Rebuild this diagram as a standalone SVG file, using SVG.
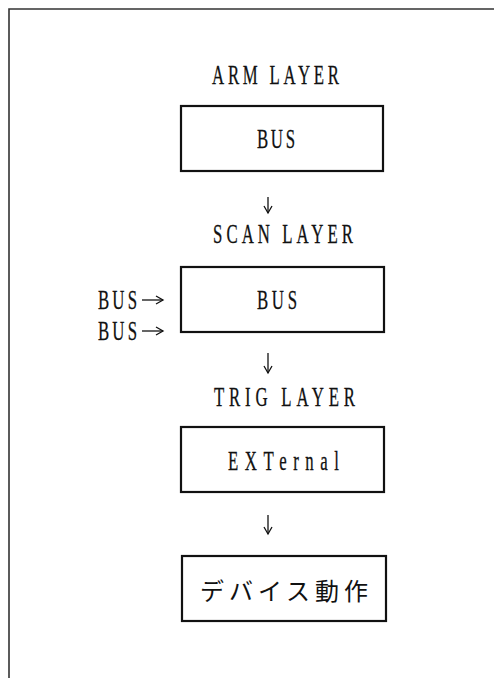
<svg xmlns="http://www.w3.org/2000/svg" width="494" height="678" viewBox="0 0 494 678">
<defs>
<style>
.t{font-family:"Liberation Serif","Noto Sans CJK JP",serif;font-size:28px;fill:#111;stroke:#111;stroke-width:0.3}
.j{font-family:"Noto Sans CJK JP","Liberation Serif",serif;font-size:24px;fill:#111}
.box{fill:#fff;stroke:#111;stroke-width:2.2}
.c{fill:none;stroke:#111;stroke-width:1.3}
</style>
<marker id="ah" markerWidth="10" markerHeight="10" refX="8" refY="5" orient="auto" markerUnits="userSpaceOnUse">
<path d="M1,1 L8,5 L1,9" fill="none" stroke="#111" stroke-width="1.3"/>
</marker>
</defs>
<rect width="494" height="678" fill="#fff"/>
<g id="frame"><path d="M9,678 V9 H494" fill="none" stroke="#333" stroke-width="1.6"/></g>
<g id="arm-layer"><g transform="translate(212,84) scale(0.6,1)"><text class="t" x="0" y="0" textLength="211.7" lengthAdjust="spacing">ARM LAYER</text></g></g>
<g id="arm-bus"><rect class="box" x="181" y="106" width="202" height="65"/><g transform="translate(257,148) scale(0.6,1)"><text class="t" x="0" y="0" textLength="63.3" lengthAdjust="spacing">BUS</text></g></g>
<g id="scan-layer"><g transform="translate(213,243) scale(0.6,1)"><text class="t" x="0" y="0" textLength="233.3" lengthAdjust="spacing">SCAN LAYER</text></g></g>
<g id="scan-bus"><rect class="box" x="181" y="267" width="203" height="65"/><g transform="translate(257,309) scale(0.6,1)"><text class="t" x="0" y="0" textLength="66.7" lengthAdjust="spacing">BUS</text></g></g>
<g id="bus-in-1"><g transform="translate(98,309) scale(0.6,1)"><text class="t" x="0" y="0" textLength="65" lengthAdjust="spacing">BUS</text></g></g>
<g id="bus-in-2"><g transform="translate(98,340) scale(0.6,1)"><text class="t" x="0" y="0" textLength="65" lengthAdjust="spacing">BUS</text></g></g>
<g id="trig-layer"><g transform="translate(214,406) scale(0.6,1)"><text class="t" x="0" y="0" textLength="235" lengthAdjust="spacing">TRIG LAYER</text></g></g>
<g id="trig-external"><rect class="box" x="181" y="427" width="203" height="65"/><g transform="translate(228,470) scale(0.6,1)"><text class="t" x="0" y="0" textLength="185" lengthAdjust="spacing">EXTernal</text></g></g>
<g id="device"><rect class="box" x="182" y="556" width="204" height="65"/><text class="j" x="200" y="600" textLength="168" lengthAdjust="spacing">デバイス動作</text></g>
<g id="connectors">
<path class="c" d="M268,197 V213" marker-end="url(#ah)"/>
<path class="c" d="M268,353 V373" marker-end="url(#ah)"/>
<path class="c" d="M268,515 V534" marker-end="url(#ah)"/>
<path class="c" d="M142,300 H163" marker-end="url(#ah)"/>
<path class="c" d="M142,331 H163" marker-end="url(#ah)"/>
</g>
</svg>
